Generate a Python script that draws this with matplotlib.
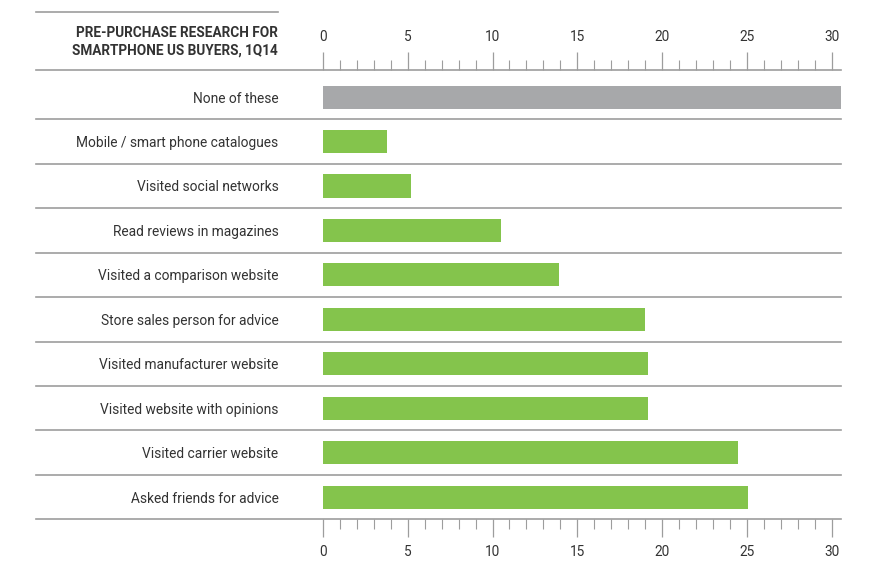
import matplotlib.pyplot as plt
from matplotlib.lines import Line2D
from matplotlib.ticker import MultipleLocator

plt.rcParams["font.family"] = ["Roboto", "DejaVu Sans"]

CATEGORIES = [
    "None of these",
    "Mobile / smart phone catalogues",
    "Visited social networks",
    "Read reviews in magazines",
    "Visited a comparison website",
    "Store sales person for advice",
    "Visited manufacturer website",
    "Visited website with opinions",
    "Visited carrier website",
    "Asked friends for advice",
]
VALUES = [30.6, 3.8, 5.2, 10.5, 13.9, 19.0, 19.2, 19.2, 24.5, 25.1]
BAR_COLORS = ["#a7a8aa"] + ["#84c44c"] * 9
XTICKS = [0, 5, 10, 15, 20, 25, 30]

TITLE = "PRE-PURCHASE RESEARCH FOR\nSMARTPHONE US BUYERS, 1Q14"

W, H = 884, 564
LINE_COLOR = "#9d9d9d"
TEXT_COLOR = "#333333"

fig = plt.figure(figsize=(W / 100, H / 100), dpi=100)
ax_left, ax_right = 323 / W, 841 / W
ax_top, ax_bottom = 1 - 70 / H, 1 - 519.3 / H
ax = fig.add_axes([ax_left, ax_bottom, ax_right - ax_left, ax_top - ax_bottom])

y = list(range(len(CATEGORIES)))
ax.barh(y, VALUES, height=0.52, color=BAR_COLORS)

ax.set_xlim(0, 30.56)
ax.set_ylim(9.5, -0.61)

for s in ax.spines.values():
    s.set_visible(False)

# row separator lines, extending left under the labels
left_ext = (36 - 323) / (841 - 323)
seps = [-0.61] + [i + 0.5 for i in range(len(CATEGORIES))]
for yy in seps:
    ax.axhline(yy, xmin=left_ext, xmax=1, color=LINE_COLOR, lw=1.2, clip_on=False)

ax.set_yticks(y, CATEGORIES)
ax.tick_params(axis="y", length=0, pad=32, labelsize=9.9, labelcolor=TEXT_COLOR)

ax.set_xticks(XTICKS)
ax.xaxis.set_minor_locator(MultipleLocator(1))
ax.tick_params(axis="x", which="both", top=True, bottom=True,
               labeltop=True, labelbottom=True, direction="out",
               color=LINE_COLOR, width=0.9)
ax.tick_params(axis="x", which="major", length=13, pad=5.5,
               labelsize=9.8, labelcolor=TEXT_COLOR)
ax.tick_params(axis="x", which="minor", length=7, width=0.8)

# title block with a rule above it
fig.add_artist(Line2D([36 / W, 278 / W], [1 - 12 / H, 1 - 12 / H],
                      color=LINE_COLOR, lw=1.2))
fig.text(278 / W, 1 - 42 / H, TITLE, ha="right", va="center",
         fontsize=9.85, fontweight="bold", color=TEXT_COLOR, linespacing=1.3)

fig.savefig("out.png", dpi=100, facecolor="white")
